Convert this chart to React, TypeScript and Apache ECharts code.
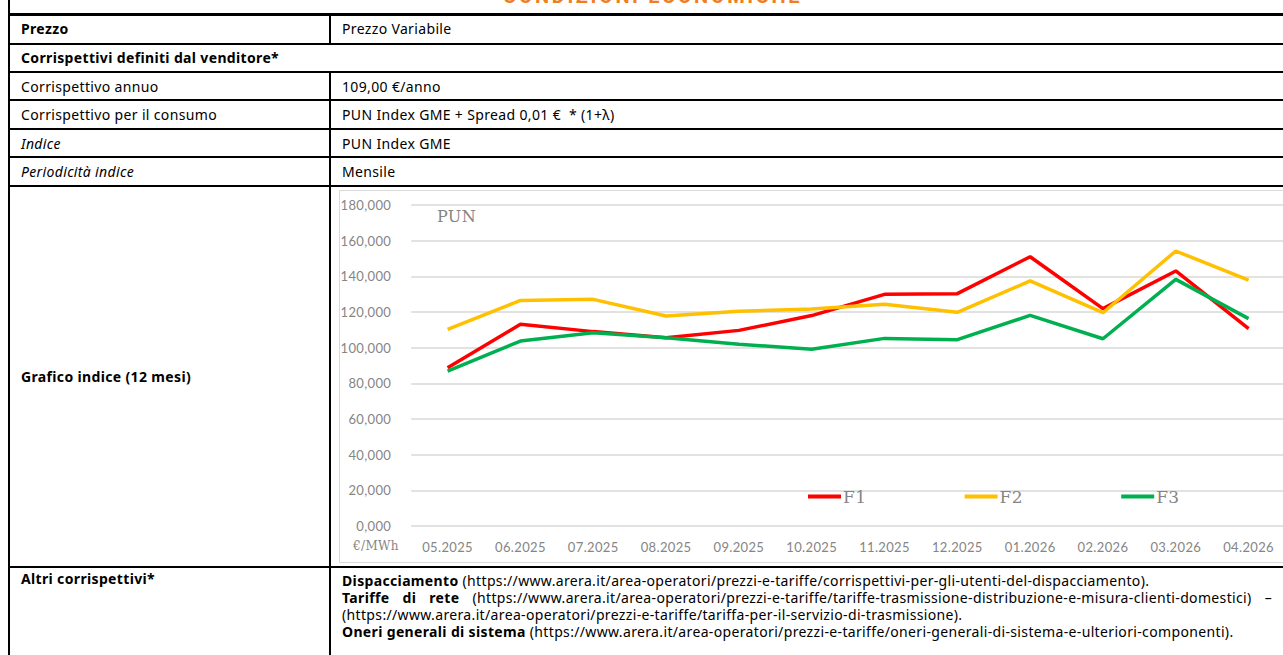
import React, { useEffect, useRef } from "react";
import * as echarts from "echarts";

// ---- chart data ----
const months = ["05.2025", "06.2025", "07.2025", "08.2025", "09.2025", "10.2025", "11.2025", "12.2025", "01.2026", "02.2026", "03.2026", "04.2026"];
const f1Values = [88.8, 113.1, 109.0, 105.6, 109.7, 118.0, 129.9, 130.3, 151.0, 121.9, 143.0, 110.7];
const f2Values = [110.3, 126.5, 127.1, 117.8, 120.4, 121.7, 124.3, 119.8, 137.4, 119.6, 154.2, 137.9];
const f3Values = [86.9, 103.7, 108.4, 105.6, 101.9, 99.1, 105.2, 104.5, 118.1, 105.0, 138.3, 116.3];
const seriesNames = ["F1", "F2", "F3"];
const seriesValues = [f1Values, f2Values, f3Values];
const seriesColors = ["#ff0000", "#ffc000", "#00b050"];
const yMin = 0;
const yMax = 180;
const yStep = 20;
const chartTitle = "PUN";
const unitLabel = "€/MWh";

// ---- table text ----
const pageTitle = "CONDIZIONI ECONOMICHE";
const rowLabels = [
  "Prezzo",
  "Corrispettivi definiti dal venditore*",
  "Corrispettivo annuo",
  "Corrispettivo per il consumo",
  "Indice",
  "Periodicità indice",
  "Grafico indice (12 mesi)",
  "Altri corrispettivi*",
];
const rowValues = [
  "Prezzo Variabile",
  "",
  "109,00 €/anno",
  "PUN Index GME + Spread 0,01 €  * (1+λ)",
  "PUN Index GME",
  "Mensile",
  "",
  "",
];
const otherCharges = [
  { bold: "Dispacciamento", text: " (https://www.arera.it/area-operatori/prezzi-e-tariffe/corrispettivi-per-gli-utenti-del-dispacciamento).", justify: false },
  { bold: "Tariffe di rete", text: " (https://www.arera.it/area-operatori/prezzi-e-tariffe/tariffe-trasmissione-distribuzione-e-misura-clienti-domestici) –", justify: true },
  { bold: "", text: "(https://www.arera.it/area-operatori/prezzi-e-tariffe/tariffa-per-il-servizio-di-trasmissione).", justify: false },
  { bold: "Oneri generali di sistema", text: " (https://www.arera.it/area-operatori/prezzi-e-tariffe/oneri-generali-di-sistema-e-ulteriori-componenti).", justify: false },
];

const FONT = "'Noto Sans', Roboto, Arial, sans-serif";
const lineTops = [13, 42.5, 71, 99, 128, 156, 185, 565.5];
const rowBoxes = [
  [15, 42.5], [44.5, 71], [73, 99], [101, 128], [130, 156], [158, 185], [187, 565.5], [567.5, 590],
];
const rowStyles: Array<{ weight: number; italic: boolean }> = [
  { weight: 700, italic: false },
  { weight: 700, italic: false },
  { weight: 400, italic: false },
  { weight: 400, italic: false },
  { weight: 400, italic: true },
  { weight: 400, italic: true },
  { weight: 700, italic: false },
  { weight: 700, italic: false },
];

function Chart() {
  const ref = useRef<HTMLDivElement>(null);
  useEffect(() => {
    if (!ref.current) return;
    const chart = echarts.init(ref.current, null, { renderer: "svg" });
    const grey = "#858585";
    chart.setOption({
      animation: false,
      grid: { left: 69.5, right: 0, top: 14, height: 321 },
      xAxis: {
        type: "category",
        data: months,
        boundaryGap: true,
        axisLine: { show: false },
        axisTick: { show: false },
        axisLabel: { color: grey, fontFamily: "Lato", fontSize: 13, margin: 14 },
      },
      yAxis: {
        type: "value",
        min: yMin,
        max: yMax,
        interval: yStep,
        axisLine: { show: false },
        axisTick: { show: false },
        axisLabel: {
          color: grey,
          fontFamily: "Lato",
          fontSize: 13,
          margin: 20,
          formatter: (v: number) => v.toFixed(3).replace(".", ","),
        },
        splitLine: { lineStyle: { color: "#d9d9d9", width: 1.5 } },
      },
      legend: {
        data: seriesNames,
        left: 463,
        top: 292,
        icon: "rect",
        itemWidth: 33,
        itemHeight: 4,
        itemGap: 99,
        textStyle: { fontFamily: "DejaVu Serif", fontSize: 17, color: grey, padding: [0, 0, 0, -3] },
      },
      graphic: [
        { type: "text", left: 97, top: 17, style: { text: chartTitle, font: "16px 'DejaVu Serif'", fill: grey } },
        { type: "text", left: 13, top: 349, style: { text: unitLabel, font: "12px 'DejaVu Serif'", fill: grey } },
      ],
      series: seriesNames.map((name, i) => ({
        name,
        type: "line",
        data: seriesValues[i],
        symbol: "none",
        lineStyle: { width: 3.5, color: seriesColors[i] },
        itemStyle: { color: seriesColors[i] },
      })),
    });
    return () => chart.dispose();
  }, []);
  return (
    <div
      ref={ref}
      style={{
        position: "absolute",
        left: 339,
        top: 189.5,
        width: 946,
        height: 373,
        boxSizing: "border-box",
        border: "1px solid #d9d9d9",
        borderRight: "none",
        background: "#fff",
      }}
    />
  );
}

export default function App() {
  return (
    <div
      style={{
        position: "absolute",
        left: 0,
        top: 0,
        width: 1283,
        height: 655,
        overflow: "hidden",
        background: "#fff",
        fontFamily: FONT,
        fontSize: 14,
        letterSpacing: 0.35,
        color: "#000",
      }}
    >
      <div
        style={{
          position: "absolute",
          left: 503,
          top: -14,
          fontFamily: "Roboto, sans-serif",
          fontSize: 20,
          fontWeight: 700,
          color: "#f07d1e",
          letterSpacing: 2.6,
          whiteSpace: "nowrap",
          lineHeight: "20px",
        }}
      >
        {pageTitle}
      </div>
      {/* left border */}
      <div style={{ position: "absolute", left: 7.5, top: 0, width: 2, height: 655, background: "#000" }} />
      {/* horizontal lines */}
      {lineTops.map((t, i) => (
        <div
          key={"h" + i}
          style={{ position: "absolute", left: 7.5, top: t, width: 1290, height: i === 0 ? 3 : 2.3, background: "#000" }}
        />
      ))}
      {/* vertical divider (not in the section header row) */}
      <div style={{ position: "absolute", left: 329, top: 15, width: 2, height: 28, background: "#000" }} />
      <div style={{ position: "absolute", left: 329, top: 72, width: 2, height: 600, background: "#000" }} />
      {/* row labels and values */}
      {rowLabels.map((label, i) => {
        const [t, b] = rowBoxes[i];
        return (
          <React.Fragment key={"r" + i}>
            <div
              style={{
                position: "absolute",
                left: 21,
                top: t,
                height: b - t,
                display: "flex",
                alignItems: "center",
                fontWeight: rowStyles[i].weight,
                fontStyle: rowStyles[i].italic ? "italic" : "normal",
                whiteSpace: "nowrap",
              }}
            >
              {label}
            </div>
            {rowValues[i] ? (
              <div
                style={{
                  position: "absolute",
                  left: 342,
                  top: t,
                  height: b - t,
                  display: "flex",
                  alignItems: "center",
                  whiteSpace: "pre",
                }}
              >
                {rowValues[i]}
              </div>
            ) : null}
          </React.Fragment>
        );
      })}
      <Chart />
      {/* other charges lines */}
      {otherCharges.map((line, i) => (
        <div
          key={"o" + i}
          style={{
            position: "absolute",
            left: 342,
            top: 572 + i * 17,
            width: 930,
            lineHeight: "17px",
            whiteSpace: "nowrap",
            textAlign: line.justify ? "justify" : "left",
            textAlignLast: line.justify ? "justify" : "auto",
          }}
        >
          {line.bold ? <b>{line.bold}</b> : null}
          {line.text}
        </div>
      ))}
    </div>
  );
}
